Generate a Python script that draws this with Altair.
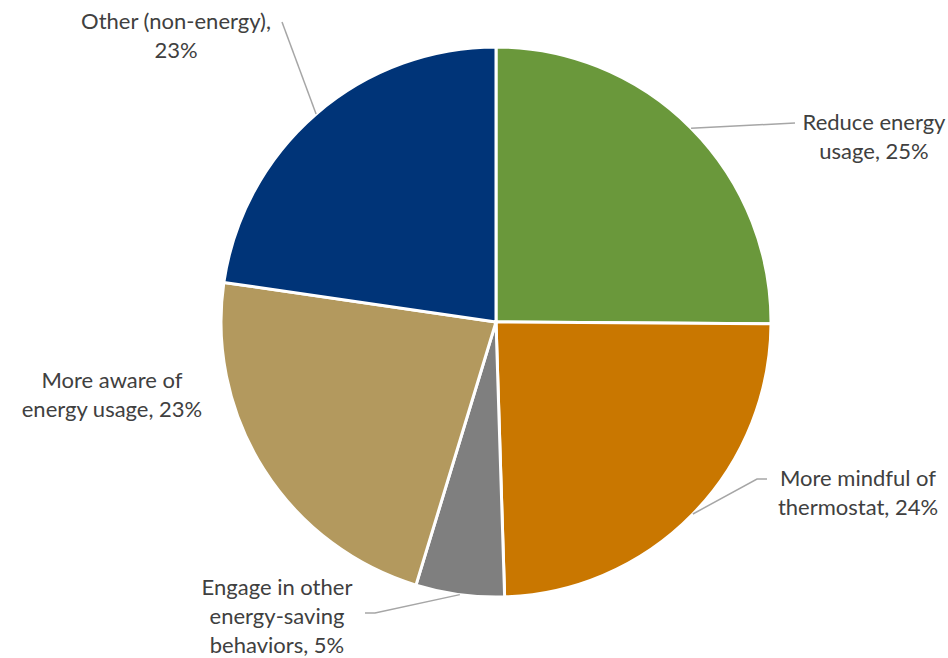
import math
import altair as alt
import pandas as pd

# ---- data ----
categories = [
    "Reduce energy usage",
    "More mindful of thermostat",
    "Engage in other energy-saving behaviors",
    "More aware of energy usage",
    "Other (non-energy)",
]
shares = [25.1, 24.4, 5.2, 22.6, 22.7]
pct_labels = ["25%", "24%", "5%", "23%", "23%"]
label_lines = [
    ["Reduce energy", "usage, 25%"],
    ["More mindful of", "thermostat, 24%"],
    ["Engage in other", "energy-saving", "behaviors, 5%"],
    ["More aware of", "energy usage, 23%"],
    ["Other (non-energy),", "23%"],
]
colors = ["#6A983B", "#C97700", "#7F7F7F", "#B3995E", "#003478"]

# ---- layout ----
W, H = 948, 658
CX, CY, R = 496, 322, 275
label_xy = [(874, 123), (858, 479), (277, 588), (112, 381), (176, 22)]  # first-line centre
leader_tail = [
    [(795, 123)],
    [(757, 479), (767, 479)],
    [(375, 613), (365, 613)],
    [],
    [(282, 22)],
]

df = pd.DataFrame({
    "category": categories,
    "share": shares,
    "idx": list(range(len(categories))),
    "label": ["\n".join(l) for l in label_lines],
    "lx": [p[0] for p in label_xy],
    "ly": [p[1] for p in label_xy],
})

# leader lines start on the slice edge at its mid-angle
rows = []
total = sum(shares)
cum = 0.0
for i, s in enumerate(shares):
    mid = (cum + s / 2) / total * 2 * math.pi
    cum += s
    if not leader_tail[i]:
        continue
    pts = [(CX + R * math.sin(mid), CY - R * math.cos(mid))] + leader_tail[i]
    for k, (x, y) in enumerate(pts):
        rows.append({"g": i, "k": k, "x": x, "y": y})
lead = pd.DataFrame(rows)

xs = alt.Scale(domain=[0, W], range=[0, W])
ys = alt.Scale(domain=[0, H], range=[0, H])

pie = alt.Chart(df).mark_arc(outerRadius=R, stroke="white", strokeWidth=3).encode(
    theta=alt.Theta("share:Q", stack=True),
    color=alt.Color("category:N", scale=alt.Scale(domain=categories, range=colors), legend=None),
    order=alt.Order("idx:Q"),
    x=alt.value(CX),
    y=alt.value(CY),
)

lines = alt.Chart(lead).mark_line(color="#A6A6A6", strokeWidth=1.5).encode(
    x=alt.X("x:Q", scale=xs, axis=None),
    y=alt.Y("y:Q", scale=ys, axis=None),
    detail="g:N",
    order="k:Q",
)

texts = alt.Chart(df).mark_text(
    align="center", baseline="middle", lineBreak="\n", lineHeight=29,
    fontSize=22, font="Lato", color="#404040",
).encode(
    x=alt.X("lx:Q", scale=xs, axis=None),
    y=alt.Y("ly:Q", scale=ys, axis=None),
    text="label:N",
)

chart = alt.layer(pie, lines, texts).properties(
    width=W, height=H, padding=0, autosize=alt.AutoSizeParams(type="none")
).configure_view(stroke=None)

chart.save("out.html", embed_options={"renderer": "svg", "actions": False})
